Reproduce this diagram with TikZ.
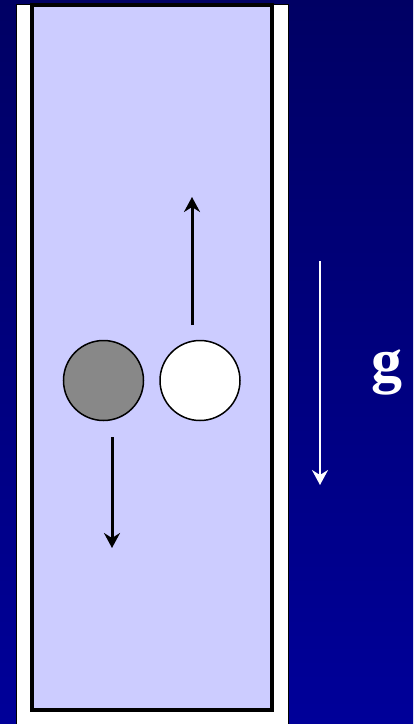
\documentclass[tikz,border=0pt]{standalone}
\usepackage{fontspec}
\newfontfamily\gfont{Liberation Serif}
\usetikzlibrary{arrows.meta, positioning}
\definecolor{SlideNavy}{RGB}{0, 0, 100}
\definecolor{SlideBlue}{RGB}{0, 0, 153}
\definecolor{FluidLilac}{RGB}{204, 204, 255}
\definecolor{BallGrey}{RGB}{136, 136, 136}

\begin{document}
\begin{tikzpicture}[x=1pt, y=-1pt, >={Stealth[length=15pt, width=16pt, inset=5pt]},
    ball/.style={circle, draw=black, line width=1.5pt, minimum size=80pt, inner sep=0pt}]
    \useasboundingbox (0, 0) rectangle (413, 724);
    % Slide background
    \shade[top color=SlideNavy, bottom color=SlideBlue] (0, 0) rectangle (413, 724);

    % Tube wall and fluid column
    \filldraw[fill=white, draw=black, line width=1pt] (16, 4) rectangle (288, 740);
    \filldraw[fill=FluidLilac, draw=black, line width=4pt] (32, 5) rectangle (271.5, 709.5);

    % Heavy and light balls
    \node[ball, fill=BallGrey] (heavy) at (103.5, 380.5) {};
    \node[ball, fill=white] (light) at (200, 380.5) {};

    % Velocities
    \coordinate (riseFrom) at (192, 325);
    \coordinate (riseTo) at (192, 197);
    \draw[->, line width=3pt] (riseFrom) -- (riseTo);
    \coordinate (sinkFrom) at (112, 437);
    \coordinate (sinkTo) at (112, 548);
    \draw[->, line width=3pt] (sinkFrom) -- (sinkTo);

    % Gravity
    \coordinate (gravFrom) at (320, 261);
    \coordinate (gravTo) at (320, 485);
    \draw[->, white, line width=2.2pt] (gravFrom) -- (gravTo);
    \node[text=white, font=\gfont\bfseries\fontsize{62}{62}\selectfont] (gLabel) at (387, 372) {g};
\end{tikzpicture}
\end{document}
